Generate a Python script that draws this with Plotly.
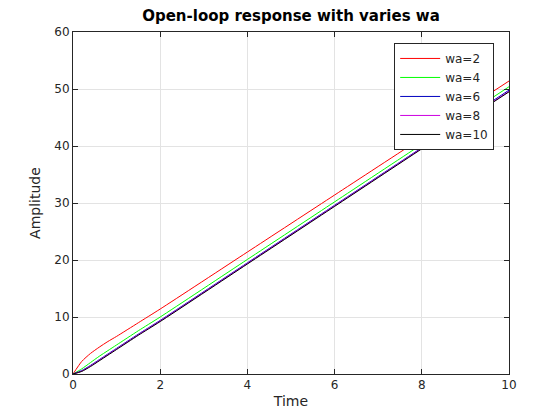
import plotly.graph_objects as go

# Time samples
t = [0, 0.2, 0.4, 0.6, 0.8, 1.0, 1.5, 2, 4, 6, 8, 10]

# Responses
y_wa2 = [0, 2.2, 3.6, 4.7, 5.7, 6.6, 9.0, 11.4, 21.4, 31.4, 41.4, 51.4]
y_wa4 = [0, 0.9, 2.0, 3.1, 4.1, 5.1, 7.6, 10.0, 20.1, 30.2, 40.3, 50.4]
y_wa6 = [0, 0.6, 1.5, 2.5, 3.5, 4.5, 7.0, 9.4, 19.5, 29.6, 39.7, 49.8]
y_wa8 = [0, 0.5, 1.4, 2.4, 3.4, 4.4, 6.9, 9.3, 19.4, 29.5, 39.6, 49.6]
y_wa10 = [0, 0.45, 1.3, 2.3, 3.3, 4.3, 6.8, 9.2, 19.3, 29.4, 39.5, 49.5]

labels = ["wa=2", "wa=4", "wa=6", "wa=8", "wa=10"]
series = [y_wa2, y_wa4, y_wa6, y_wa8, y_wa10]
colors = ["#ff0000", "#00ff00", "#0000c0", "#cc00e0", "#000000"]

fig = go.Figure()
for lab, ys, c in zip(labels, series, colors):
    fig.add_trace(go.Scatter(x=t, y=ys, mode="lines", name=lab,
                             line=dict(color=c, width=1, shape="spline", smoothing=0.6)))

font = "DejaVu Sans, Arial, sans-serif"
axis_common = dict(
    showline=True, linecolor="#262626", linewidth=1, mirror="ticks",
    ticks="inside", ticklen=5, tickcolor="#262626",
    showgrid=True, gridcolor="#e3e3e3", gridwidth=1,
    zeroline=False, tickfont=dict(family=font, size=12, color="#262626"),
)
fig.update_layout(
    width=560, height=420,
    margin=dict(l=73, r=51, t=32, b=46),
    paper_bgcolor="white", plot_bgcolor="white",
    title=dict(text="Open-loop response with varies wa", x=(73 + 509) / 2 / 560,
               xanchor="center", y=1 - 16 / 420, yanchor="middle",
               font=dict(family=font, size=15, color="black", weight="bold")),
    xaxis=dict(range=[0, 10], tickvals=[0, 2, 4, 6, 8, 10],
               title=dict(text="Time", font=dict(family=font, size=14, color="#262626"), standoff=4),
               **axis_common),
    yaxis=dict(range=[0, 60], tickvals=[0, 10, 20, 30, 40, 50, 60],
               title=dict(text="Amplitude", font=dict(family=font, size=14, color="#262626"), standoff=10),
               **axis_common),
    legend=dict(x=0.966, xanchor="right", y=0.968, yanchor="top",
                bgcolor="white", bordercolor="#262626", borderwidth=1,
                font=dict(family=font, size=12, color="#262626"),
                tracegroupgap=0, itemwidth=40),
    showlegend=True,
)
fig.write_html("out.html")
